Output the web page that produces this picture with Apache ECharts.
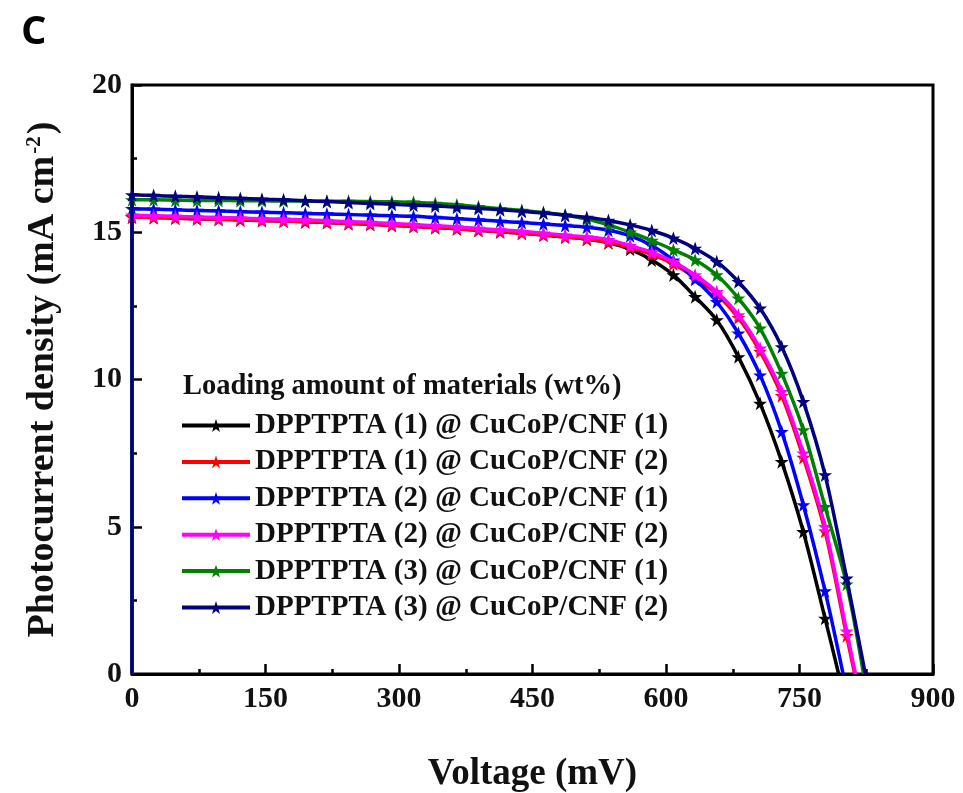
<!DOCTYPE html>
<html><head><meta charset="utf-8">
<script src="https://cdn.jsdelivr.net/npm/echarts@6/dist/echarts.min.js"></script>
<style>html,body{margin:0;padding:0;background:#fff}#c{width:963px;height:793px}</style>
</head><body><div id="c"></div>
<script>
// Voltage (mV) at each star marker
const voltage = [0, 24.3, 48.7, 73.0, 97.3, 121.7, 146.0, 170.3, 194.7, 219.0, 243.3, 267.7, 292.0, 316.3, 340.7, 365.0, 389.3, 413.7, 438.0, 462.3, 486.7, 511.0, 535.3, 559.7, 584.0, 608.3, 632.7, 657.0, 681.3, 705.7, 730.0, 754.3, 778.7, 803.0];

const seriesNames = [
  'DPPTPTA (1) @ CuCoP/CNF (1)',
  'DPPTPTA (1) @ CuCoP/CNF (2)',
  'DPPTPTA (2) @ CuCoP/CNF (1)',
  'DPPTPTA (2) @ CuCoP/CNF (2)',
  'DPPTPTA (3) @ CuCoP/CNF (1)',
  'DPPTPTA (3) @ CuCoP/CNF (2)'
];
const seriesColors = ['#000000', '#ff0000', '#0000ff', '#ff00ff', '#008000', '#000080'];

// Photocurrent density (mA cm-2) at each voltage above (null = past open-circuit)
const jDppt1Cu1 = [15.52, 15.50, 15.48, 15.46, 15.44, 15.42, 15.40, 15.38, 15.36, 15.33, 15.30, 15.27, 15.24, 15.20, 15.16, 15.12, 15.07, 15.02, 14.97, 14.91, 14.84, 14.76, 14.64, 14.42, 14.06, 13.55, 12.81, 12.02, 10.77, 9.19, 7.21, 4.83, 1.89, null];
const jDppt1Cu2 = [15.52, 15.50, 15.48, 15.46, 15.44, 15.42, 15.40, 15.38, 15.36, 15.33, 15.30, 15.27, 15.24, 15.20, 15.16, 15.12, 15.07, 15.02, 14.97, 14.91, 14.84, 14.77, 14.66, 14.48, 14.25, 13.92, 13.45, 12.90, 12.10, 10.95, 9.45, 7.35, 4.85, 1.30];
const jDppt2Cu1 = [15.80, 15.78, 15.76, 15.74, 15.72, 15.70, 15.68, 15.66, 15.64, 15.62, 15.60, 15.58, 15.56, 15.54, 15.50, 15.46, 15.42, 15.37, 15.33, 15.28, 15.23, 15.17, 15.07, 14.88, 14.55, 14.05, 13.40, 12.64, 11.57, 10.15, 8.23, 5.74, 2.82, null];
const jDppt2Cu2 = [15.58, 15.56, 15.54, 15.52, 15.50, 15.48, 15.46, 15.44, 15.42, 15.39, 15.36, 15.33, 15.30, 15.26, 15.22, 15.18, 15.13, 15.08, 15.03, 14.97, 14.90, 14.84, 14.75, 14.55, 14.32, 14.00, 13.55, 12.98, 12.19, 11.06, 9.59, 7.50, 5.00, 1.45];
const jDppt3Cu1 = [16.10, 16.10, 16.09, 16.08, 16.08, 16.07, 16.07, 16.06, 16.06, 16.05, 16.05, 16.04, 16.03, 16.02, 15.98, 15.93, 15.87, 15.80, 15.74, 15.67, 15.58, 15.45, 15.25, 15.00, 14.72, 14.40, 14.06, 13.55, 12.76, 11.74, 10.21, 8.29, 5.68, 3.05];
const jDppt3Cu2 = [16.27, 16.25, 16.22, 16.20, 16.17, 16.15, 16.12, 16.10, 16.07, 16.04, 16.01, 15.98, 15.95, 15.92, 15.89, 15.85, 15.81, 15.76, 15.71, 15.65, 15.58, 15.50, 15.40, 15.25, 15.06, 14.80, 14.45, 14.00, 13.32, 12.42, 11.11, 9.25, 6.76, 3.25];
// Open-circuit voltage (mV), where each curve reaches 0
const vocValues = [794, 812, 799, 813, 822, 824];

const xTickValues = [0, 150, 300, 450, 600, 750, 900];
const yTickValues = [0, 5, 10, 15, 20];

const allJ = [jDppt1Cu1, jDppt1Cu2, jDppt2Cu1, jDppt2Cu2, jDppt3Cu1, jDppt3Cu2];
const STAR = 'path://M50,2 L61.8,36.2 L97.6,36.2 L68.6,57.6 L79.4,92 L50,71 L20.6,92 L31.4,57.6 L2.4,36.2 L38.2,36.2 Z';
const SERIF = "'Liberation Serif', 'Times New Roman', serif";

const series = seriesNames.map((name, si) => {
  const data = [{ value: [0, 0], symbol: 'none' }];
  allJ[si].forEach((j, i) => { if (j !== null) data.push([voltage[i], j]); });
  data.push({ value: [vocValues[si], 0], symbol: 'none' });
  return {
    name, type: 'line', data,
    smooth: 0.3,
    symbol: STAR, symbolSize: 14, showAllSymbol: true,
    lineStyle: { color: seriesColors[si], width: 3.5 },
    itemStyle: { color: seriesColors[si] },
    emphasis: { disabled: true },
    z: 2 + si
  };
});

const chart = echarts.init(document.getElementById('c'), null, { renderer: 'canvas' });
chart.setOption({
  animation: false,
  backgroundColor: '#fff',
  title: [
    { text: 'C', left: 16, top: 8, textStyle: { fontFamily: "'Open Sans', sans-serif", fontWeight: 'bold', fontSize: 40, color: '#000' } },
    { text: 'Loading amount of materials (wt%)', left: 183, top: 372, padding: 0, textStyle: { fontFamily: SERIF, fontWeight: 'bold', fontSize: 28.5, color: '#111' } }
  ],
  grid: { left: 132, right: 30, top: 85, bottom: 119, show: true, borderColor: '#000', borderWidth: 3, outerBoundsMode: 'none', containLabel: false },
  legend: {
    data: seriesNames, orient: 'vertical', left: 180, top: 411, padding: 0,
    itemWidth: 68, itemHeight: 16, itemGap: 7.4,
    lineStyle: { width: 4 },
    textStyle: { fontFamily: SERIF, fontWeight: 'bold', fontSize: 29, lineHeight: 28, color: '#111' },
    selectedMode: false
  },
  xAxis: {
    type: 'value', min: xTickValues[0], max: xTickValues[xTickValues.length - 1], interval: 150,
    name: 'Voltage (mV)', nameLocation: 'middle', nameGap: 82,
    nameTextStyle: { fontFamily: SERIF, fontWeight: 'bold', fontSize: 37, color: '#111' },
    axisLine: { lineStyle: { color: '#000', width: 3 } },
    axisTick: { inside: true, length: 10, lineStyle: { color: '#000', width: 2.5 } },
    minorTick: { show: true, splitNumber: 2, length: 5, lineStyle: { color: '#000', width: 2.5 } },
    splitLine: { show: false },
    axisLabel: { fontFamily: SERIF, fontWeight: 'bold', fontSize: 30, color: '#111', margin: 10 }
  },
  yAxis: {
    type: 'value', min: yTickValues[0], max: yTickValues[yTickValues.length - 1], interval: 5,
    name: 'Photocurrent density (mA cm{sup|-2})', nameLocation: 'middle', nameGap: 70, nameRotate: 90,
    nameTextStyle: { fontFamily: SERIF, fontWeight: 'bold', fontSize: 38, color: '#111',
      rich: { sup: { fontFamily: SERIF, fontWeight: 'bold', fontSize: 21, color: '#111', verticalAlign: 'top', padding: [0, 2, 16, 2] } } },
    axisLine: { lineStyle: { color: '#000', width: 3 } },
    axisTick: { inside: true, length: 10, lineStyle: { color: '#000', width: 2.5 } },
    minorTick: { show: true, splitNumber: 2, length: 5, lineStyle: { color: '#000', width: 2.5 } },
    splitLine: { show: false },
    axisLabel: { fontFamily: SERIF, fontWeight: 'bold', fontSize: 30, color: '#111', margin: 10 }
  },
  series
});
</script>
</body></html>
